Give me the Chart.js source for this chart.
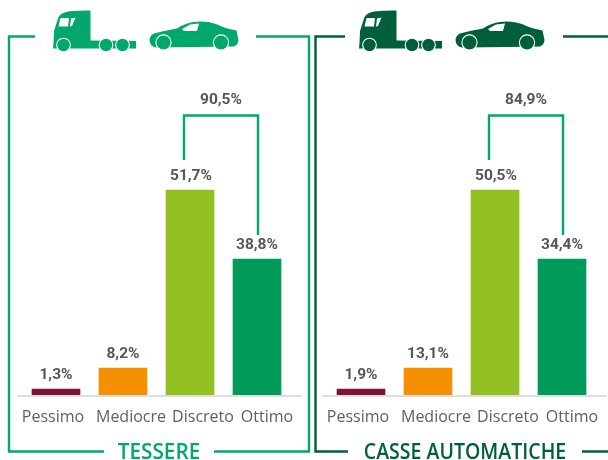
<!DOCTYPE html>
<html>
<head>
<meta charset="utf-8">
<script src="https://cdn.jsdelivr.net/npm/chart.js@4"></script>
<style>
html,body{margin:0;padding:0;background:#fff;overflow:hidden}
#stage{position:relative;width:608px;height:460px}
#stage svg{position:absolute;left:0;top:0}
#stage canvas{position:absolute;top:0}
</style>
</head>
<body>
<div id="stage">
<svg width="608" height="460" viewBox="0 0 608 460" fill="none">
  <defs>
    <g id="truck">
      <path d="M53 48.5 L53.5 43 L54 31 L58.5 17 Q61 12.5 70 11.3 Q80 10.3 90.5 10.5 L90.5 40.5 L136 41 L136 48.5 Z" fill="currentColor"/>
      <circle cx="63.5" cy="45" r="6.8" fill="currentColor" stroke="#fff" stroke-width="1.1"/>
      <circle cx="106" cy="45" r="6.8" fill="currentColor" stroke="#fff" stroke-width="1.1"/>
      <circle cx="122.5" cy="45" r="6.8" fill="currentColor" stroke="#fff" stroke-width="1.1"/>
      <path d="M60.5 18 L69 18 L68 26.5 L58.5 26.5 Z M71 18.5 L75.5 17.5 L72 26 L70 26.5 Z" fill="#fff"/>
    </g>
    <g id="car">
      <path d="M149.5 40 Q150 35 154 33.5 Q165 30.5 177 28.5 Q185 23 194 22 Q205 20.5 216 24 Q225 28.5 236.5 30.5 L238.5 40 Q238 45 234 46.5 L156 47.5 Q150 47 149.5 40 Z" fill="currentColor"/>
      <circle cx="163.5" cy="42.5" r="7.6" fill="currentColor" stroke="#fff" stroke-width="1.1"/>
      <circle cx="221" cy="42.5" r="7.6" fill="currentColor" stroke="#fff" stroke-width="1.1"/>
      <path d="M182 29 L190 24.5 L199 23.5 L197 31 L184 31 Z" fill="#fff"/>
    </g>
  </defs>
  <path d="M35 36.5 H9 V451.5 H104 M214 451.5 H309 V36.5 H256" stroke="#00A96B" stroke-width="2.4"/>
  <path d="M345 36.5 H315.5 V451.5 H348 M582 451.5 H608 M563 36.5 H608" stroke="#005F3B" stroke-width="2.4"/>
  <use href="#truck" style="color:#00A96B"/>
  <use href="#car" style="color:#00A96B"/>
  <use href="#truck" x="306" style="color:#005F3B"/>
  <use href="#car" x="306" style="color:#005F3B"/>
</svg>
<canvas id="left" width="304" height="460" style="left:0"></canvas>
<canvas id="right" width="304" height="460" style="left:304px"></canvas>
</div>
<script>
const categories = ['Pessimo', 'Mediocre', 'Discreto', 'Ottimo'];
const barColors = ['#7F1239', '#F59100', '#92C020', '#009A5B'];
const barHeights = [1.5, 6.8, 51.7, 34.3];
const tessereLabels = ['1,3%', '8,2%', '51,7%', '38,8%'];
const casseLabels = ['1,9%', '13,1%', '50,5%', '34,4%'];
const tessereSum = '90,5%';
const casseSum = '84,9%';
const tessereTitle = 'TESSERE';
const casseTitle = 'CASSE AUTOMATICHE';
const tickShift = [-3, 8, 13, 10];

const overlay = {
  id: 'overlay',
  afterUpdate(chart) {
    const items = chart.scales.x.getLabelItems();
    items.forEach((it, i) => { it.options.translation[0] += tickShift[i]; });
  },
  afterDatasetsDraw(chart, args, o) {
    const ctx = chart.ctx, a = chart.chartArea, x = chart.scales.x, y = chart.scales.y;
    ctx.save();
    ctx.strokeStyle = '#DEDEDE'; ctx.lineWidth = 2;
    ctx.beginPath(); ctx.moveTo(a.left - 5.5, a.bottom + 1); ctx.lineTo(a.right + 11.5, a.bottom + 1); ctx.stroke();
    ctx.fillStyle = '#55565A'; ctx.font = '700 15.5px Roboto';
    ctx.textAlign = 'center'; ctx.textBaseline = 'middle';
    o.values.forEach((t, i) => {
      ctx.fillText(t, x.getPixelForValue(i) + (i === 2 ? 1 : 0), y.getPixelForValue(barHeights[i]) - 14);
    });
    const xa = x.getPixelForValue(2) - 6, xb = x.getPixelForValue(3) + 1;
    const ya = y.getPixelForValue(barHeights[2]), yb = y.getPixelForValue(barHeights[3]);
    ctx.strokeStyle = '#00A96B'; ctx.lineWidth = 2.4;
    ctx.beginPath(); ctx.moveTo(xa, ya - 30); ctx.lineTo(xa, ya - 74.5); ctx.lineTo(xb, ya - 74.5); ctx.lineTo(xb, yb - 24); ctx.stroke();
    ctx.fillText(o.sum, (xa + xb) / 2, ya - 89.5);
    ctx.fillStyle = o.titleColor; ctx.font = '600 21px "Open Sans"';
    ctx.save();
    ctx.translate(o.titleX, 453); ctx.scale(o.titleScale, 1);
    ctx.fillText(o.title, 0, 0);
    ctx.restore();
    ctx.restore();
  }
};

function build(id, padLeft, padRight, values, sum, title, titleColor, titleX, titleScale) {
  return new Chart(document.getElementById(id), {
    type: 'bar',
    data: { labels: categories, datasets: [{ data: barHeights, backgroundColor: barColors, barThickness: 48 }] },
    plugins: [overlay],
    options: {
      responsive: false, animation: false,
      layout: { padding: { left: padLeft, right: padRight, top: 20, bottom: 20 } },
      events: [],
      plugins: {
        legend: { display: false }, tooltip: { enabled: false },
        overlay: { values, sum, title, titleColor, titleX, titleScale }
      },
      scales: {
        x: {
          afterFit(s) { s.height = 45; },
          grid: { display: false }, border: { display: false },
          ticks: { color: '#5E5F63', padding: 5, maxRotation: 0, autoSkip: false, font: { family: '"Open Sans"', size: 16 } }
        },
        y: { display: false, min: 0, max: 94.6 }
      }
    }
  });
}
build('left', 22.5, 13.5, tessereLabels, tessereSum, tessereTitle, '#00A96B', 159, 0.99);
build('right', 23.5, 12.5, casseLabels, casseSum, casseTitle, '#005F3B', 161, 0.93);
</script>
</body>
</html>
